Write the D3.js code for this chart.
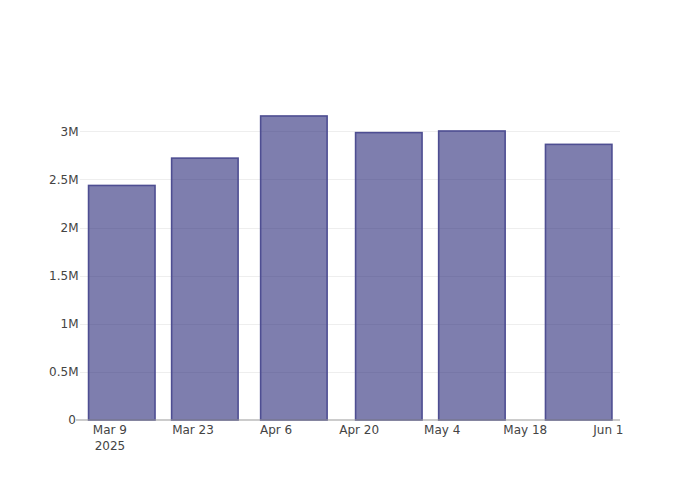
<!DOCTYPE html>
<html>
<head>
<meta charset="utf-8">
<script src="https://cdn.jsdelivr.net/npm/d3@7"></script>
<style>
  html, body { margin: 0; padding: 0; background: #fff; }
  svg { display: block; }
  text { font-family: "DejaVu Sans", Verdana, sans-serif; font-size: 12px; fill: #444; }
</style>
</head>
<body>
<svg id="chart" width="700" height="500"></svg>
<script>
// ---- data ----
const dates = ["2025-03-11", "2025-03-25", "2025-04-09", "2025-04-25", "2025-05-09", "2025-05-27"];
const values = [2437000, 2721000, 3159000, 2986000, 3003000, 2864000];
const yTicks = [0, 500000, 1000000, 1500000, 2000000, 2500000, 3000000];
const yTickLabels = ["0", "0.5M", "1M", "1.5M", "2M", "2.5M", "3M"];
const xTicks = ["2025-03-09", "2025-03-23", "2025-04-06", "2025-04-20", "2025-05-04", "2025-05-18", "2025-06-01"];
const xTickLabels = ["Mar 9", "Mar 23", "Apr 6", "Apr 20", "May 4", "May 18", "Jun 1"];
const xDomain = ["2025-03-03T23:00:00Z", "2025-06-02T23:00:00Z"];
const yMax = 3325000;

const W = 700, H = 500;
const margin = { l: 80, r: 80, t: 100, b: 80 };
const svg = d3.select("#chart");
const parse = s => new Date(s.length > 10 ? s : s + "T00:00:00Z");

const x = d3.scaleUtc()
  .domain(xDomain.map(parse))
  .range([margin.l, W - margin.r]);
const y = d3.scaleLinear()
  .domain([0, yMax])
  .range([H - margin.b, margin.t]);

const dayPx = x(parse("2025-01-02")) - x(parse("2025-01-01"));
const barW = 0.8 * 14 * dayPx;

// gridlines
svg.append("g")
  .selectAll("line")
  .data(yTicks.filter(d => d > 0))
  .join("line")
  .attr("x1", margin.l).attr("x2", W - margin.r)
  .attr("y1", d => Math.round(y(d)) + 0.5).attr("y2", d => Math.round(y(d)) + 0.5)
  .attr("stroke", "#eee").attr("stroke-width", 1);

// bars
const data = dates.map((d, i) => ({ date: parse(d), value: values[i] }));
svg.append("g")
  .selectAll("rect")
  .data(data)
  .join("rect")
  .attr("x", d => x(d.date) - barW / 2)
  .attr("width", barW)
  .attr("y", d => y(d.value))
  .attr("height", d => y(0) - y(d.value))
  .attr("fill", "rgb(40,40,120)")
  .attr("fill-opacity", 0.6)
  .attr("stroke", "rgb(78,78,146)")
  .attr("stroke-width", 1.6);

// x axis line
svg.append("line")
  .attr("x1", margin.l - 4).attr("x2", W - margin.r)
  .attr("y1", y(0)).attr("y2", y(0))
  .attr("stroke", "#999").attr("stroke-width", 1.2);

// y tick labels
svg.append("g")
  .selectAll("text")
  .data(yTicks)
  .join("text")
  .attr("x", (d, i) => i === 0 ? 76 : 78.5)
  .attr("y", d => y(d))
  .attr("dy", "0.36em")
  .attr("text-anchor", "end")
  .text((d, i) => yTickLabels[i]);

// x tick labels
const xg = svg.append("g");
xTicks.forEach((t, i) => {
  xg.append("text")
    .attr("x", x(parse(t)))
    .attr("y", 433.5)
    .attr("text-anchor", "middle")
    .text(xTickLabels[i]);
});
xg.append("text")
  .attr("x", x(parse(xTicks[0])))
  .attr("y", 449.5)
  .attr("text-anchor", "middle")
  .text("2025");
</script>
</body>
</html>
